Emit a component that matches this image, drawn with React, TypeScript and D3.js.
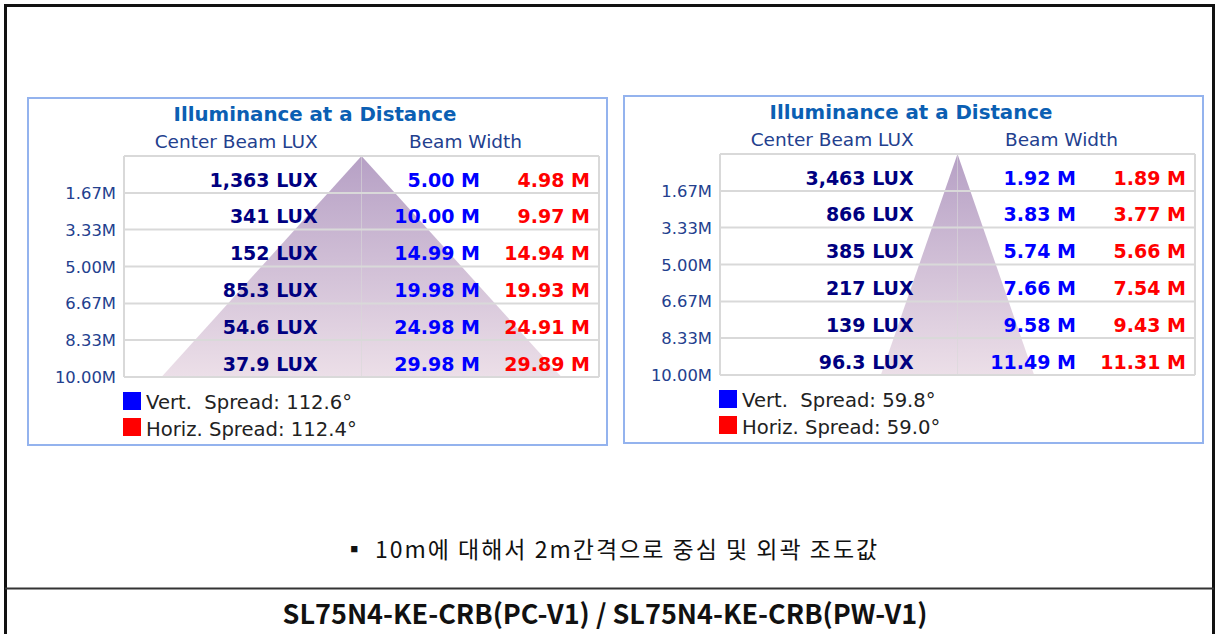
import React from "react";
import * as d3 from "d3";

// ---- data ----
const distances = [1.67, 3.33, 5.0, 6.67, 8.33, 10.0];
const distanceLabels = ["1.67M", "3.33M", "5.00M", "6.67M", "8.33M", "10.00M"];

const luxA = ["1,363", "341", "152", "85.3", "54.6", "37.9"];
const vertA = [5.0, 10.0, 14.99, 19.98, 24.98, 29.98];
const horizA = [4.98, 9.97, 14.94, 19.93, 24.91, 29.89];
const spreadA = { vert: "112.6", horiz: "112.4" };

const luxB = ["3,463", "866", "385", "217", "139", "96.3"];
const vertB = [1.92, 3.83, 5.74, 7.66, 9.58, 11.49];
const horizB = [1.89, 3.77, 5.66, 7.54, 9.43, 11.31];
const spreadB = { vert: "59.8", horiz: "59.0" };

const captionText = "▪ 10m에 대해서 2m간격으로 중심 및 외곽 조도값";
const modelText = "SL75N4-KE-CRB(PC-V1) / SL75N4-KE-CRB(PW-V1)";

const W = 1216;
const H = 634;
const FONT = "'DejaVu Sans', Verdana, sans-serif";

type PanelProps = {
  id: string;
  x0: number;
  y0: number;
  lux: string[];
  vert: number[];
  horiz: number[];
  spread: { vert: string; horiz: string };
};

function Panel({ id, x0, y0, lux, vert, horiz, spread }: PanelProps) {
  const left = 97;
  const right = 572;
  const center = (left + right) / 2;
  const y = d3.scaleLinear().domain([0, 10]).range([59, 280]);
  const x = d3.scaleLinear().domain([-17.8, 17.8]).range([left, right]);
  const maxD = distances[distances.length - 1];
  const halfBase = vert[vert.length - 1] / 2;
  const tri = d3.line<[number, number]>()([
    [x(0), y(0)],
    [x(halfBase), y(maxD)],
    [x(-halfBase), y(maxD)],
  ]) + "Z";
  const gridYs = [0, ...distances];
  const fmt = d3.format(".2f");
  return (
    <g transform={`translate(${x0},${y0})`}>
      <defs>
        <linearGradient id={`grad-${id}`} x1="0" y1={y(0)} x2="0" y2={y(maxD)} gradientUnits="userSpaceOnUse">
          <stop offset="0" stopColor="#b6a0c5" />
          <stop offset="1" stopColor="#ecdfe8" />
        </linearGradient>
      </defs>
      <rect x={1} y={1} width={579} height={347} fill="#fff" stroke="#94b3ee" strokeWidth={2} />
      <path d={tri} fill={`url(#grad-${id})`} />
      {gridYs.map((d, i) => (
        <line key={"h" + i} x1={left} x2={right} y1={y(d)} y2={y(d)} stroke="#d9d9d9" strokeWidth={2} />
      ))}
      {[left, center, right].map((xx, i) => (
        <line key={"v" + i} x1={xx} x2={xx} y1={y(0)} y2={y(maxD)} stroke="#d9d9d9" strokeWidth={i === 1 ? 1 : 2} opacity={i === 1 ? 0.6 : 1} />
      ))}
      <text x={288} y={24} textAnchor="middle" fontFamily={FONT} fontWeight="bold" fontSize={19.8} fill="#0b5fb3">
        Illuminance at a Distance
      </text>
      <text x={290.7} y={51} textAnchor="end" fontFamily={FONT} fontSize={18.5} fill="#23408e">
        Center Beam LUX
      </text>
      <text x={438.5} y={51} textAnchor="middle" fontFamily={FONT} fontSize={18.5} fill="#23408e">
        Beam Width
      </text>
      {distances.map((d, i) => (
        <text key={"a" + i} x={89} y={y(d) + 6} textAnchor="end" fontFamily={FONT} fontSize={16.4} fill="#23408e">
          {distanceLabels[i]}
        </text>
      ))}
      {distances.map((d, i) => (
        <g key={"r" + i} fontFamily={FONT} fontWeight="bold" fontSize={19} textAnchor="end">
          <text x={290.7} y={y(d) - 6.3} fill="#000080">{lux[i]} LUX</text>
          <text x={453} y={y(d) - 6.3} fill="#0000ff">{fmt(vert[i])} M</text>
          <text x={563} y={y(d) - 6.3} fill="#ff0000">{fmt(horiz[i])} M</text>
        </g>
      ))}
      <rect x={96} y={295} width={18} height={18} fill="#0000ff" />
      <rect x={96} y={321} width={18} height={18} fill="#ff0000" />
      <text x={119} y={312} fontFamily={FONT} fontSize={19.6} fill="#222" style={{ whiteSpace: "pre" }}>
        {`Vert.  Spread: ${spread.vert}°`}
      </text>
      <text x={119} y={339} fontFamily={FONT} fontSize={19.6} fill="#222" style={{ whiteSpace: "pre" }}>
        {`Horiz. Spread: ${spread.horiz}°`}
      </text>
    </g>
  );
}

export default function App() {
  return (
    <svg width={W} height={H} style={{ position: "absolute", left: 0, top: 0, background: "#fff" }}>
      <rect x={0} y={0} width={W} height={H} fill="#fff" />
      <line x1={4} x2={1215} y1={5.5} y2={5.5} stroke="#111" strokeWidth={3} />
      <line x1={5.5} x2={5.5} y1={4} y2={H} stroke="#111" strokeWidth={3} />
      <line x1={1213.5} x2={1213.5} y1={4} y2={H} stroke="#111" strokeWidth={3} />
      <line x1={5} x2={1214} y1={588.5} y2={588.5} stroke="#333" strokeWidth={2} />
      <Panel id="a" x0={27} y0={97} lux={luxA} vert={vertA} horiz={horizA} spread={spreadA} />
      <Panel id="b" x0={623} y0={95} lux={luxB} vert={vertB} horiz={horizB} spread={spreadB} />
      <text x={611} y={558} textAnchor="middle" fontFamily="'Noto Sans CJK KR', sans-serif" fontSize={23} letterSpacing={2} fill="#111">
        {captionText}
      </text>
      <text x={605} y={624} textAnchor="middle" fontFamily="'Noto Sans CJK KR', sans-serif" fontWeight="bold" fontSize={27} fill="#111">
        {modelText}
      </text>
    </svg>
  );
}
